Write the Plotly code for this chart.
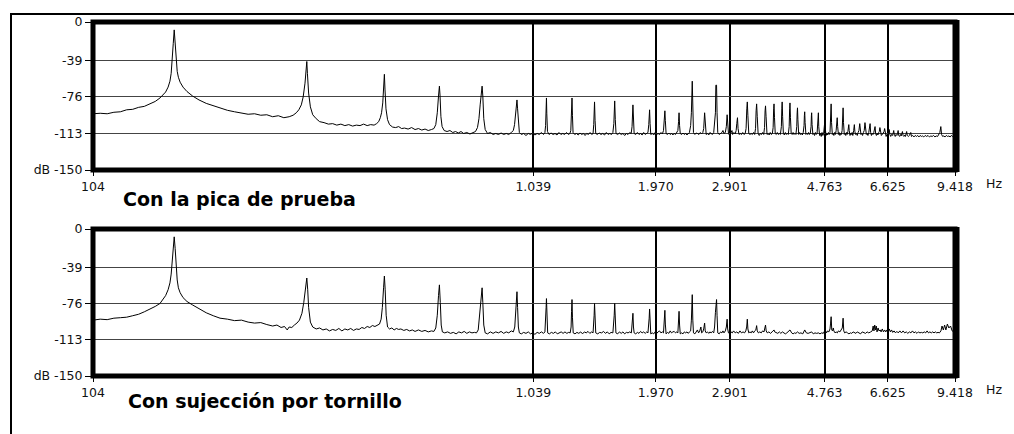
import math
import plotly.graph_objects as go

# ---------------- data (Hz, dB) ----------------
spectrum_top = [
    (104, -93), (108, -92.5), (112, -93), (116, -91.5), (120, -91), (124, -89), (128, -88.5),
    (132, -86.5), (136, -85.5), (140, -83), (144, -80.5), (147.6, -77), (150, -74), (152, -71),
    (154, -66), (155.5, -60), (156.5, -52), (157.4, -40), (158.2, -22), (159, -8), (159.8, -24),
    (160.6, -40), (161.5, -50), (162.5, -56), (164, -61), (166.5, -66), (170, -70.5), (175, -75),
    (181, -79), (188, -82.5), (195, -85), (202, -87.5), (210, -89.5), (218, -91), (226, -92),
    (234, -93.5), (242, -93), (250, -94.5), (258, -94), (266, -96), (274, -95), (282, -97),
    (290, -96), (296, -94.5), (301, -92), (305, -89), (309, -84), (312, -76), (315, -62),
    (317, -48), (318, -40), (319, -52), (321, -72), (324, -86), (328, -94), (334, -98),
    (340, -101), (348, -102), (356, -103.5), (364, -103), (372, -104.5), (380, -103.5),
    (388, -105), (396, -104), (404, -105.5), (412, -104.5), (420, -105), (428, -103.5),
    (436, -105), (444, -104), (452, -104.5), (458, -103), (463, -101), (467, -97), (470, -92),
    (473, -82), (475.5, -65), (477, -53), (478.5, -68), (481, -88), (485, -99), (490, -104),
    (498, -106.5), (506, -107), (514, -106), (522, -108), (530, -107.5), (540, -108.5),
    (550, -107), (560, -109), (570, -108), (580, -109.5), (590, -108.5), (600, -110),
    (610, -109), (618, -108), (624, -104), (629, -92), (633, -75), (636, -65), (638, -74),
    (641, -96), (645, -106), (652, -110), (662, -111), (672, -110), (682, -112), (692, -111),
    (702, -112.5), (712, -111), (722, -113), (734, -112), (746, -113.5), (758, -112),
    (768, -111), (776, -107), (782, -98), (787, -84), (791, -70), (795, -65), (798, -75),
    (802, -98), (808, -109), (818, -113), (830, -112), (842, -114), (854, -113), (866, -114),
    (878, -112.5), (890, -114), (902, -113), (914, -114), (926, -112), (936, -110), (942, -104),
    (947, -92), (951, -82), (954, -79), (957, -88), (961, -104), (966, -112), (976, -114),
    (988, -113), (1000, -115), (1012, -113), (1024, -114), (1036, -112.5), (1048, -114.5),
    (1060, -113), (1072, -114), (1084, -112), (1096, -114), (1104, -112), (1108, -105),
    (1111, -90), (1113, -77), (1115, -93), (1119, -111), (1128, -114), (1140, -112.5),
    (1152, -114), (1164, -113), (1176, -114.5), (1188, -112), (1200, -114), (1212, -113),
    (1224, -114), (1236, -112), (1248, -114), (1258, -113), (1264, -110), (1268, -95),
    (1272, -77), (1275, -95), (1279, -112), (1290, -114), (1302, -113), (1314, -114.5),
    (1326, -112.5), (1338, -114), (1350, -113), (1362, -115), (1374, -113), (1386, -114),
    (1398, -112), (1410, -114), (1420, -113), (1425, -104), (1431, -81), (1435, -100),
    (1440, -113), (1452, -114), (1466, -112.5), (1480, -114), (1494, -113), (1508, -114.5),
    (1522, -112), (1536, -114), (1550, -113), (1564, -114), (1575, -112), (1583, -103),
    (1590, -80), (1595, -99), (1601, -113), (1615, -114), (1630, -112.5), (1645, -114),
    (1660, -113), (1675, -115), (1690, -113), (1705, -114), (1720, -112), (1733, -113),
    (1741, -106), (1749, -84), (1754, -102), (1760, -113), (1775, -114), (1790, -112),
    (1805, -114), (1820, -113), (1835, -114.5), (1850, -112), (1865, -114), (1880, -113),
    (1892, -112), (1900, -104), (1908, -89), (1913, -103), (1920, -114), (1935, -113),
    (1950, -114.5), (1965, -112), (1980, -114), (1995, -113), (2010, -114), (2025, -112),
    (2040, -113.5), (2052, -110), (2058, -104), (2067, -90), (2072, -100), (2080, -113),
    (2095, -114), (2110, -112.5), (2125, -114), (2140, -113), (2155, -114.5), (2170, -113),
    (2185, -114), (2200, -112), (2212, -110), (2220, -101), (2226, -92), (2232, -105),
    (2240, -113), (2256, -114), (2272, -112.5), (2288, -114), (2304, -113), (2320, -114.5),
    (2336, -113), (2350, -112), (2365, -105), (2374, -92), (2385, -60), (2392, -92),
    (2400, -112), (2418, -114), (2435, -112.5), (2450, -113), (2470, -114), (2488, -112),
    (2505, -113.5), (2520, -112), (2532, -108), (2544, -92), (2552, -108), (2565, -114),
    (2582, -113), (2600, -114.5), (2615, -112), (2632, -113), (2650, -114), (2668, -112),
    (2680, -105), (2692, -92), (2698, -64), (2708, -64), (2715, -92), (2725, -112),
    (2745, -114), (2765, -113), (2785, -112), (2800, -110), (2815, -113), (2835, -112),
    (2850, -106), (2862, -94), (2870, -106), (2882, -113), (2900, -115), (2920, -112),
    (2935, -110), (2945, -114), (2965, -112), (2985, -113.5), (3000, -110), (3010, -103),
    (3021, -97), (3030, -108), (3045, -114), (3065, -113), (3085, -114), (3105, -112),
    (3125, -114), (3145, -113), (3160, -108), (3172, -88), (3180, -81), (3190, -95),
    (3205, -113), (3225, -114), (3245, -113), (3265, -114), (3285, -112), (3305, -114),
    (3320, -108), (3330, -90), (3339, -83), (3350, -96), (3365, -113), (3385, -115),
    (3405, -113), (3425, -114), (3445, -112), (3465, -114), (3480, -107), (3490, -90),
    (3498, -85), (3508, -96), (3525, -114), (3545, -113), (3565, -114.5), (3585, -112),
    (3605, -114), (3625, -113), (3640, -107), (3650, -88), (3657, -83), (3666, -97),
    (3680, -113), (3700, -114), (3720, -112), (3740, -114), (3760, -113), (3780, -114),
    (3800, -106), (3809, -88), (3816, -81), (3825, -96), (3840, -113), (3860, -114.5),
    (3880, -112), (3900, -114), (3920, -113), (3940, -114), (3958, -106), (3968, -88),
    (3975, -82), (3985, -97), (4000, -113), (4020, -114), (4040, -112), (4060, -114),
    (4080, -113), (4100, -114), (4118, -106), (4127, -92), (4134, -87), (4143, -99),
    (4160, -114), (4180, -112), (4200, -114), (4220, -113), (4240, -114.5), (4260, -112),
    (4278, -105), (4286, -95), (4293, -91), (4302, -102), (4320, -114), (4340, -113),
    (4360, -114), (4380, -112), (4400, -114), (4420, -113), (4438, -106), (4446, -95),
    (4452, -92), (4462, -104), (4480, -114), (4500, -113), (4520, -115), (4540, -112),
    (4560, -114), (4580, -113), (4598, -104), (4606, -95), (4611, -92), (4620, -106),
    (4640, -115), (4660, -113), (4680, -116), (4700, -112), (4720, -115), (4740, -113),
    (4760, -105), (4770, -100), (4780, -108), (4800, -115), (4820, -113), (4840, -114.5),
    (4860, -112), (4880, -114), (4900, -112), (4915, -100), (4929, -83), (4940, -102),
    (4960, -114), (4980, -113), (5000, -115), (5020, -112), (5040, -114), (5060, -110),
    (5075, -103), (5088, -97), (5100, -106), (5120, -114), (5140, -112), (5160, -115),
    (5180, -113), (5200, -114), (5220, -110), (5235, -100), (5247, -87), (5258, -102),
    (5280, -114), (5300, -113), (5320, -115), (5340, -112), (5360, -114), (5380, -111),
    (5395, -108), (5406, -104), (5418, -110), (5440, -115), (5460, -113), (5480, -114),
    (5500, -112), (5520, -115), (5545, -110), (5565, -104), (5580, -111), (5600, -114),
    (5625, -113), (5650, -115), (5675, -112), (5700, -110), (5724, -103), (5740, -112),
    (5760, -114), (5785, -113), (5810, -115), (5835, -112), (5860, -110), (5883, -102),
    (5900, -111), (5925, -114), (5950, -113), (5975, -115), (6000, -112), (6020, -109),
    (6042, -103), (6060, -112), (6085, -115), (6110, -113), (6135, -114), (6160, -112),
    (6180, -110), (6201, -106), (6220, -113), (6245, -115), (6270, -113), (6295, -114.5),
    (6320, -112), (6340, -111), (6360, -107), (6380, -113), (6410, -115), (6440, -114),
    (6470, -113), (6500, -111), (6519, -108), (6540, -114), (6570, -116), (6600, -114),
    (6630, -115), (6655, -112), (6678, -109), (6700, -114), (6730, -116), (6760, -114),
    (6790, -115), (6815, -113), (6837, -110), (6860, -115), (6890, -116), (6920, -114),
    (6950, -115), (6975, -113), (6996, -110), (7020, -115), (7050, -116), (7080, -114),
    (7110, -115.5), (7135, -113), (7155, -111), (7180, -115), (7210, -116), (7240, -114.5),
    (7270, -116), (7295, -113), (7314, -111), (7340, -115), (7380, -116), (7420, -115),
    (7450, -114), (7473, -112), (7500, -116), (7550, -115), (7600, -116.5), (7650, -115),
    (7700, -116), (7750, -115), (7800, -116.5), (7850, -115), (7900, -116), (7950, -115.5),
    (8000, -116.5), (8060, -115), (8120, -116), (8180, -115), (8240, -116.5), (8300, -115.5),
    (8360, -116), (8420, -115), (8480, -116.5), (8540, -115.5), (8600, -116), (8660, -114),
    (8700, -112), (8745, -106), (8780, -114), (8830, -116), (8880, -115.5), (8940, -116.5),
    (9000, -115), (9060, -116), (9120, -115.5), (9180, -116.5), (9240, -115), (9300, -116),
    (9360, -115.5), (9418, -116),
]

spectrum_bottom = [
    (104, -93), (108, -92), (112, -92.5), (116, -91), (120, -90.5), (124, -90), (128, -88.5),
    (132, -87), (136, -84.5), (140, -82), (144, -79), (147.6, -76), (150, -72), (152, -68),
    (154, -62), (155.5, -55), (156.5, -46), (157.4, -34), (158.2, -18), (159, -8), (159.8, -20),
    (160.6, -38), (161.5, -52), (162.5, -60), (164, -65), (166.5, -70), (170, -74), (175, -77.5),
    (181, -81.5), (188, -85.5), (195, -88.5), (202, -91), (210, -92), (218, -93.5), (226, -93),
    (234, -95), (242, -96), (250, -95.5), (258, -97.5), (266, -99), (272, -98), (278, -100.5),
    (283, -99.5), (287, -103), (290, -100), (294, -100.5), (298, -98), (302, -96), (306, -93),
    (310, -86), (313, -75), (316, -60), (318, -50), (319.5, -62), (321, -80), (324, -95),
    (328, -100), (334, -102), (340, -101), (346, -103), (352, -102), (358, -104), (364, -102.5),
    (370, -103.5), (376, -101.5), (382, -104), (388, -102), (394, -103), (400, -101.5),
    (406, -103.5), (412, -102), (418, -102.5), (424, -100.5), (430, -101.5), (436, -99.5),
    (442, -100.5), (448, -98.5), (454, -99.5), (460, -98), (465, -97), (469, -92), (472, -80),
    (475, -60), (477, -48), (479, -62), (481.5, -88), (485, -100), (490, -102), (496, -101),
    (502, -103), (508, -101.5), (514, -102.5), (520, -102), (528, -103.5), (536, -102.5),
    (544, -104), (552, -103), (560, -104.5), (570, -103), (580, -104.5), (590, -103.5),
    (600, -105), (610, -104), (618, -104.5), (624, -101), (629, -88), (633, -68), (636, -57),
    (639, -75), (642, -98), (646, -105), (654, -106), (664, -105), (674, -106.5), (684, -105.5),
    (694, -107), (704, -105), (714, -106), (724, -104.5), (734, -106.5), (744, -105),
    (754, -106), (764, -105.5), (772, -106), (779, -103), (785, -88), (790, -70), (795, -60),
    (798, -75), (802, -98), (808, -106), (818, -107), (830, -105), (842, -106.5), (854, -105),
    (866, -106), (878, -104.5), (890, -106.5), (902, -105), (914, -106), (926, -104),
    (936, -105), (943, -100), (948, -84), (951, -68), (954, -64), (957, -80), (961, -100),
    (966, -106), (976, -107), (988, -105.5), (1000, -106.5), (1012, -105), (1024, -107),
    (1036, -106), (1048, -107.5), (1060, -105.5), (1072, -106.5), (1084, -105), (1096, -106.5),
    (1104, -105), (1108, -96), (1111, -80), (1113, -71), (1116, -88), (1120, -106),
    (1130, -107), (1142, -105.5), (1154, -106.5), (1166, -105), (1178, -107), (1190, -106),
    (1202, -105), (1214, -106.5), (1226, -105), (1238, -106.5), (1250, -105.5), (1260, -106),
    (1266, -100), (1269, -84), (1272, -72), (1275, -90), (1280, -106), (1292, -107),
    (1305, -105.5), (1318, -106.5), (1331, -105), (1344, -107), (1357, -105), (1370, -106),
    (1383, -104.5), (1396, -106.5), (1410, -105), (1420, -106), (1425, -98), (1428, -88),
    (1431, -76), (1435, -96), (1440, -106), (1455, -107), (1470, -105.5), (1485, -106),
    (1500, -104.5), (1515, -106.5), (1530, -105), (1545, -107), (1560, -105.5), (1575, -106),
    (1582, -98), (1586, -88), (1590, -76), (1594, -94), (1600, -106), (1615, -107),
    (1630, -105), (1645, -106.5), (1660, -105), (1675, -107), (1690, -105.5), (1705, -106),
    (1720, -105), (1735, -106), (1742, -98), (1749, -86), (1754, -100), (1760, -106),
    (1775, -107), (1790, -105.5), (1805, -106.5), (1820, -104.5), (1835, -106), (1850, -105),
    (1865, -106.5), (1880, -105), (1892, -106), (1900, -98), (1904, -91), (1908, -81.6),
    (1913, -98), (1920, -107), (1935, -106), (1950, -107), (1965, -105), (1980, -106.5),
    (1995, -105), (2010, -104), (2025, -106), (2040, -105), (2052, -106), (2060, -96),
    (2067, -83), (2072, -97), (2080, -107), (2095, -105.5), (2110, -106.5), (2125, -104),
    (2140, -106), (2155, -105), (2170, -104.5), (2185, -106), (2200, -105), (2212, -106),
    (2220, -96), (2226, -84), (2232, -98), (2240, -107), (2256, -106), (2272, -107),
    (2288, -105), (2304, -106), (2320, -105), (2336, -106.5), (2350, -105), (2365, -104),
    (2374, -93), (2385, -67), (2392, -93), (2400, -106), (2418, -107), (2435, -105),
    (2450, -103), (2465, -106), (2480, -104), (2495, -100), (2505, -106), (2520, -105),
    (2532, -102), (2544, -96), (2552, -104), (2565, -106), (2582, -105), (2600, -106.5),
    (2615, -105), (2632, -106), (2650, -104.5), (2668, -106), (2680, -100), (2692, -85),
    (2698, -72), (2708, -72), (2715, -88), (2725, -106), (2745, -107), (2765, -105),
    (2785, -106), (2800, -104), (2815, -106), (2835, -104), (2850, -100), (2862, -92),
    (2870, -102), (2882, -106), (2900, -107), (2920, -105), (2940, -106), (2960, -104),
    (2985, -106), (3010, -105), (3035, -106.5), (3060, -104), (3085, -106), (3110, -105),
    (3135, -106), (3155, -104), (3170, -100), (3180, -92), (3190, -102), (3205, -106),
    (3225, -105), (3245, -106), (3265, -104), (3285, -106), (3305, -104), (3325, -103),
    (3339, -98.6), (3350, -104), (3370, -106), (3395, -105), (3420, -106), (3445, -104),
    (3470, -105), (3488, -102), (3498, -98), (3510, -104), (3530, -106), (3560, -105),
    (3590, -106.5), (3620, -105), (3645, -104), (3657, -103), (3670, -105), (3700, -106),
    (3730, -106.5), (3760, -105), (3790, -106.5), (3820, -105), (3850, -106), (3880, -107),
    (3910, -106), (3940, -105), (3975, -103), (4010, -106), (4040, -107), (4070, -106),
    (4100, -106.5), (4134, -105), (4170, -106.5), (4210, -106), (4250, -107), (4293, -103),
    (4330, -106), (4370, -106.5), (4410, -106), (4452, -105), (4490, -107), (4530, -106),
    (4570, -106.5), (4611, -106), (4650, -107), (4690, -106), (4730, -106.5), (4780, -103),
    (4810, -106), (4840, -104), (4870, -105), (4900, -102), (4915, -96), (4929, -89.5),
    (4945, -103), (4965, -104), (4985, -101), (5000, -104), (5030, -106), (5060, -105),
    (5090, -106), (5120, -104), (5160, -105), (5200, -103), (5225, -101), (5247, -91),
    (5265, -104), (5290, -106), (5330, -105), (5370, -106), (5410, -107), (5450, -106),
    (5490, -106.5), (5530, -105), (5570, -106), (5610, -106.5), (5650, -105), (5700, -106),
    (5750, -107), (5800, -105), (5850, -106), (5900, -106.5), (5950, -105), (6000, -106),
    (6060, -105), (6110, -104), (6140, -99), (6165, -104), (6190, -98), (6215, -103),
    (6240, -99), (6265, -105), (6300, -101), (6330, -104), (6370, -103), (6400, -105),
    (6440, -102), (6480, -105), (6520, -103), (6560, -105), (6600, -103), (6640, -106),
    (6680, -102), (6720, -105), (6760, -103), (6800, -105.5), (6850, -104), (6900, -106),
    (6950, -104.5), (7000, -106), (7060, -104), (7120, -106), (7180, -104), (7240, -106),
    (7300, -105), (7360, -106.5), (7420, -105), (7480, -106), (7540, -104), (7600, -106),
    (7660, -105), (7720, -106.5), (7780, -105), (7840, -106), (7900, -105.5), (7960, -106),
    (8020, -105), (8080, -106), (8140, -104), (8200, -106), (8260, -105), (8320, -106),
    (8380, -105), (8440, -106), (8500, -105), (8560, -106), (8620, -105.5), (8680, -106),
    (8750, -104), (8800, -99), (8860, -103), (8920, -98), (8980, -103), (9050, -97),
    (9120, -101), (9200, -99), (9280, -104), (9350, -105), (9418, -106),
]

x_tick_vals = [104, 1039, 1970, 2901, 4763, 6625, 9418]
x_tick_text = ["104", "1.039", "1.970", "2.901", "4.763", "6.625", "9.418"]
y_tick_vals = [0, -39, -76, -113, -150]
y_tick_text = ["0", "-39", "-76", "-113", "dB -150"]
panel_titles = ["Con la pica de prueba", "Con sujección por tornillo"]
unit_label = "Hz"

# ---------------- layout helpers ----------------
W, H = 1014, 434


def px(x):
    return x / W


def py(y):
    return 1 - y / H


X_LEFT, X_RIGHT = 93, 955
PANELS = [(22, 170), (229, 376)]  # pixel top/bottom of each plot area
TICK_FONT = dict(family="DejaVu Sans", size=12.5, color="#111111")

fig = go.Figure()
for i, spec in enumerate([spectrum_top, spectrum_bottom]):
    sfx = "" if i == 0 else "2"
    fig.add_trace(go.Scatter(
        x=[p[0] for p in spec], y=[p[1] for p in spec],
        mode="lines", line=dict(color="black", width=1),
        xaxis="x" + sfx, yaxis="y" + sfx, hoverinfo="skip", showlegend=False,
    ))

layout = dict(
    template="none",
    width=W, height=H, margin=dict(l=0, r=0, t=0, b=0, pad=0, autoexpand=False),
    paper_bgcolor="white", plot_bgcolor="white", showlegend=False,
)
shapes = []
annotations = []
for i, (top, bot) in enumerate(PANELS):
    sfx = "" if i == 0 else "2"
    layout["xaxis" + sfx] = dict(
        type="log", range=[math.log10(104), math.log10(9418)],
        domain=[px(X_LEFT), px(X_RIGHT)], anchor="y" + sfx, automargin=False,
        tickmode="array", tickvals=x_tick_vals, ticktext=x_tick_text,
        showgrid=True, gridcolor="black", gridwidth=2,
        ticks="outside", ticklen=5, tickcolor="black", tickwidth=1,
        tickfont=TICK_FONT, zeroline=False, showline=False, fixedrange=True,
    )
    layout["yaxis" + sfx] = dict(
        range=[-150, 0], domain=[py(bot), py(top)], anchor="x" + sfx, automargin=False,
        tickmode="array", tickvals=y_tick_vals, ticktext=y_tick_text,
        showgrid=True, gridcolor="#444444", gridwidth=1,
        ticks="outside", ticklen=7, tickcolor="black", tickwidth=1,
        tickfont=TICK_FONT, zeroline=False, showline=False, fixedrange=True,
    )
    # thick frame around plot area
    shapes.append(dict(type="rect", xref="x" + sfx + " domain", yref="y" + sfx + " domain",
                       x0=0, x1=1, y0=0, y1=1, line=dict(color="black", width=5),
                       layer="above"))
    shapes.append(dict(type="line", xref="paper", yref="paper",
                       x0=px(X_RIGHT + 3), x1=px(X_RIGHT + 3), y0=py(bot + 2), y1=py(top - 2),
                       line=dict(color="black", width=3), layer="above"))
    annotations.append(dict(text=unit_label, xref="paper", yref="paper",
                            x=px(984), y=py(bot + 13.5), xanchor="left", yanchor="middle",
                            showarrow=False, font=TICK_FONT))
    annotations.append(dict(text=panel_titles[i], xref="paper", yref="paper",
                            x=px(121 if i == 0 else 126), y=py(bot + 29 if i == 0 else bot + 25),
                            xanchor="left", yanchor="middle", showarrow=False,
                            font=dict(family="DejaVu Sans", size=19, color="black", weight="bold")))

# outer frame lines (top and left)
shapes.append(dict(type="line", xref="paper", yref="paper", x0=px(10), x1=1, y0=py(14), y1=py(14),
                   line=dict(color="black", width=2)))
shapes.append(dict(type="line", xref="paper", yref="paper", x0=px(11), x1=px(11), y0=py(13), y1=0,
                   line=dict(color="black", width=2)))

layout["shapes"] = shapes
layout["annotations"] = annotations
fig.update_layout(**layout)
fig.write_html(
    "out.html",
    config={"displayModeBar": False, "staticPlot": True},
    post_script="document.body.style.margin='0';document.body.style.overflow='hidden';",
)
